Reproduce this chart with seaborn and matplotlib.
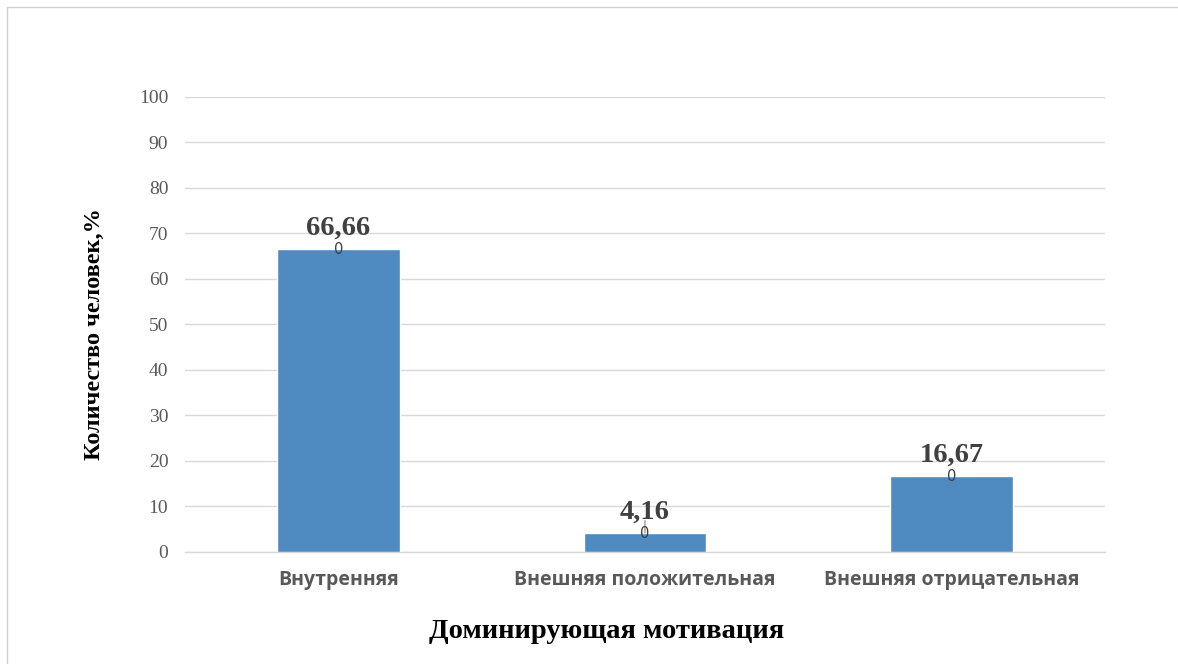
import matplotlib
matplotlib.use("Agg")
import matplotlib.pyplot as plt
import seaborn as sns
import pandas as pd

categories = ["Внутренняя", "Внешняя положительная", "Внешняя отрицательная"]
values = [66.66, 4.16, 16.67]
value_labels = ["66,66", "4,16", "16,67"]
y_ticks = [0, 10, 20, 30, 40, 50, 60, 70, 80, 90, 100]

sns.set_theme(style="white")
plt.rcParams["font.family"] = ["Liberation Serif", "DejaVu Serif"]

df = pd.DataFrame({"cat": categories, "val": values})

fig = plt.figure(figsize=(11.78, 6.64), dpi=100)
ax = fig.add_axes([0.157, 0.1687, 0.781, 0.6853])

# outer chart frame
fig.patches.append(plt.Rectangle((0.006, -0.01), 1.2, 1.0, transform=fig.transFigure,
                                 fill=False, edgecolor="#d0d0d0", linewidth=1.0))

sns.barplot(data=df, x="cat", y="val", color="#4F8BC0", saturation=1,
            width=0.40, ax=ax, zorder=3)

ax.set_ylim(0, 100)
ax.set_xlim(-0.5, 2.5)
ax.set_yticks(y_ticks)
ax.set_yticklabels([str(t) for t in y_ticks], fontsize=14, color="#595959",
                   family="Liberation Serif")
ax.yaxis.grid(True, color="#d9d9d9", linewidth=1.0, zorder=0)
ax.xaxis.grid(False)
for s in ["top", "right", "left"]:
    ax.spines[s].set_visible(False)
ax.spines["bottom"].set_color("#d9d9d9")
ax.spines["bottom"].set_linewidth(1.0)
ax.tick_params(axis="y", length=0, pad=12)
ax.tick_params(axis="x", length=0, pad=13)
ax.set_xticks(range(len(categories)))
ax.set_xticklabels(categories, fontsize=14, color="#595959", fontweight="bold",
                   family="Open Sans")

ax.set_xlabel("")
fig.text(607 / 1178, 1 - 632 / 664, "Доминирующая мотивация", fontsize=20.5,
         fontweight="bold", color="black", ha="center", va="center")
ax.set_ylabel("")
fig.text(94 / 1178, 1 - 334 / 664, "Количество человек,%", fontsize=17.5,
         fontweight="bold", color="black", ha="center", va="center",
         rotation=90)

for i, (v, lab) in enumerate(zip(values, value_labels)):
    ax.annotate(lab, (i, v), xytext=(0, 6), textcoords="offset points",
                ha="center", va="bottom", fontsize=20.5, fontweight="bold",
                color="#404040", zorder=5)
    ax.annotate("0", (i, v), xytext=(0, -0.5), textcoords="offset points",
                ha="center", va="center", fontsize=10.5, color="#404040",
                family="DejaVu Sans", zorder=5)

# short leader line on the small bar's label
ax.annotate("", xy=(1, values[1]), xytext=(0, 9), textcoords="offset points",
            arrowprops=dict(arrowstyle="-", color="#808080", lw=0.8,
                            shrinkA=0, shrinkB=0),
            zorder=4)

fig.savefig("out.png", dpi=100, facecolor="white")
